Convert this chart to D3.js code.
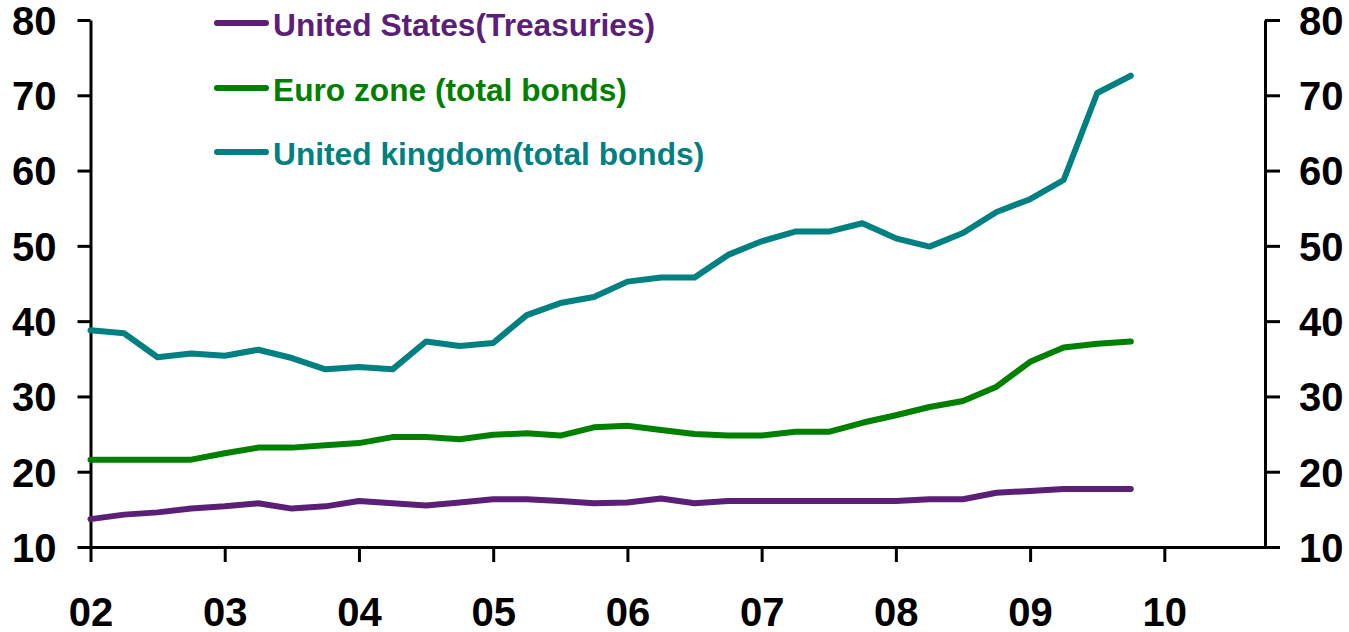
<!DOCTYPE html>
<html>
<head>
<meta charset="utf-8">
<script src="https://cdn.jsdelivr.net/npm/d3@7"></script>
<style>
  html, body { margin: 0; padding: 0; background: #fff; }
  svg { display: block; }
  text { font-family: "Liberation Sans", Arial, sans-serif; font-weight: bold; }
</style>
</head>
<body>
<svg id="chart" width="1349" height="632"></svg>
<script>
// Quarter positions (decimal years), 2002Q1 .. 2009Q4
const quarters = [
  2002.00, 2002.25, 2002.50, 2002.75,
  2003.00, 2003.25, 2003.50, 2003.75,
  2004.00, 2004.25, 2004.50, 2004.75,
  2005.00, 2005.25, 2005.50, 2005.75,
  2006.00, 2006.25, 2006.50, 2006.75,
  2007.00, 2007.25, 2007.50, 2007.75,
  2008.00, 2008.25, 2008.50, 2008.75,
  2009.00, 2009.25, 2009.50, 2009.75
];

const usTreasuries = [
  13.7, 14.3, 14.6, 15.1, 15.4, 15.8, 15.1, 15.4,
  16.1, 15.8, 15.5, 15.9, 16.35, 16.35, 16.1, 15.8,
  15.9, 16.45, 15.8, 16.1, 16.1, 16.1, 16.1, 16.1,
  16.1, 16.35, 16.35, 17.2, 17.45, 17.7, 17.7, 17.7
];

const euroZone = [
  21.6, 21.6, 21.6, 21.6, 22.45, 23.2, 23.2, 23.5,
  23.8, 24.6, 24.6, 24.3, 24.9, 25.1, 24.8, 25.9,
  26.1, 25.55, 25.0, 24.8, 24.8, 25.3, 25.3, 26.5,
  27.5, 28.6, 29.4, 31.3, 34.6, 36.5, 37.0, 37.3
];

const unitedKingdom = [
  38.8, 38.4, 35.2, 35.7, 35.4, 36.2, 35.1, 33.6,
  33.9, 33.6, 37.3, 36.7, 37.1, 40.8, 42.4, 43.2,
  45.25, 45.8, 45.8, 48.8, 50.6, 51.9, 51.9, 53.0,
  51.0, 49.9, 51.7, 54.5, 56.2, 58.75, 70.3, 72.6
];

const seriesNames = ["United States(Treasuries)", "Euro zone (total bonds)", "United kingdom(total bonds)"];
const seriesColors = ["#5B1F78", "#008000", "#008080"];

const yTicks = [10, 20, 30, 40, 50, 60, 70, 80];
const xTicks = [2002, 2003, 2004, 2005, 2006, 2007, 2008, 2009, 2010];
const xTickLabels = ["02", "03", "04", "05", "06", "07", "08", "09", "10"];

const svg = d3.select("#chart");

const x = d3.scaleLinear().domain([2002, 2010.75]).range([90.5, 1265]);
const y = d3.scaleLinear().domain([10, 80]).range([547, 20]);

// Axes
const axisStyle = g => {
  g.select(".domain").attr("stroke", "#000").attr("stroke-width", 3);
  g.selectAll(".tick line").attr("stroke", "#000").attr("stroke-width", 3);
  g.selectAll(".tick text").attr("fill", "#000").attr("font-size", 40)
    .attr("font-family", "'Liberation Sans', Arial, sans-serif").attr("font-weight", "bold");
};

const leftAxis = d3.axisLeft(y).tickValues(yTicks).tickSize(13).tickPadding(21).tickSizeOuter(0);
svg.append("g").attr("transform", `translate(${x(2002)},0)`).call(leftAxis).call(axisStyle)
  .selectAll(".tick text").attr("dy", "0.36em");

const rightAxis = d3.axisRight(y).tickValues(yTicks).tickSize(15).tickPadding(19).tickSizeOuter(0);
svg.append("g").attr("transform", `translate(${x(2010.75)},0)`).call(rightAxis).call(axisStyle)
  .selectAll(".tick text").attr("dy", "0.36em");

const bottomAxis = d3.axisBottom(x).tickValues(xTicks)
  .tickFormat((d, i) => xTickLabels[i]).tickSize(15).tickPadding(36).tickSizeOuter(0);
svg.append("g").attr("transform", `translate(0,${y(10)})`).call(bottomAxis).call(axisStyle)
  .selectAll(".tick text").attr("dy", "0.71em");

// Lines
const allSeries = [usTreasuries, euroZone, unitedKingdom];
const line = d3.line().x((d, i) => x(quarters[i])).y(d => y(d));

allSeries.forEach((vals, k) => {
  svg.append("path")
    .datum(vals)
    .attr("d", line)
    .attr("fill", "none")
    .attr("stroke", seriesColors[k])
    .attr("stroke-width", 6)
    .attr("stroke-linejoin", "round")
    .attr("stroke-linecap", "round");
});

// Legend
const legendY = [23, 88, 152];
seriesNames.forEach((name, k) => {
  const g = svg.append("g");
  g.append("line")
    .attr("x1", 217).attr("x2", 266)
    .attr("y1", legendY[k]).attr("y2", legendY[k])
    .attr("stroke", seriesColors[k]).attr("stroke-width", 6)
    .attr("stroke-linecap", "round");
  g.append("text")
    .attr("x", 273).attr("y", legendY[k] + 12.5)
    .attr("fill", seriesColors[k])
    .attr("font-size", 31.7)
    .text(name);
});
</script>
</body>
</html>
